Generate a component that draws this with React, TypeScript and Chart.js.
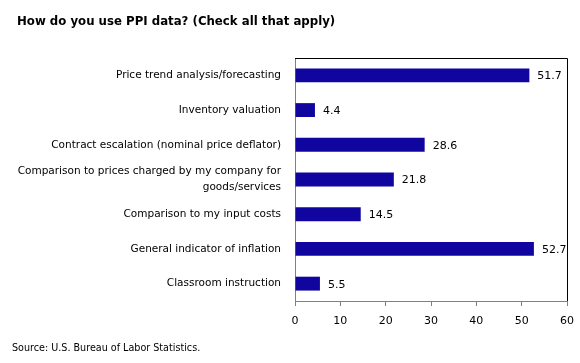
import React, { useEffect, useRef } from "react";
import { Chart, registerables } from "chart.js";

Chart.register(...registerables);

const categories: (string | string[])[] = [
  "Price trend analysis/forecasting",
  "Inventory valuation",
  "Contract escalation (nominal price deflator)",
  ["Comparison to prices charged by my company for", "goods/services"],
  "Comparison to my input costs",
  "General indicator of inflation",
  "Classroom instruction",
];
const values: number[] = [51.7, 4.4, 28.6, 21.8, 14.5, 52.7, 5.5];
const xTicks = { min: 0, max: 60, step: 10 };
const titleText = "How do you use PPI data? (Check all that apply)";
const sourceText = "Source: U.S. Bureau of Labor Statistics.";

const FONT = "'DejaVu Sans', sans-serif";
const BAR_COLOR = "#10069F";

const PLOT_LEFT = 295;
const PLOT_TOP = 58;
const PLOT_RIGHT = 567;
const PLOT_BOTTOM = 301;
const W = 580;
const H = 363;

const decorPlugin = {
  id: "decor",
  afterDraw(chart: any) {
    const ctx = chart.ctx;
    const area = chart.chartArea;
    ctx.save();
    ctx.strokeStyle = "#000000";
    ctx.lineWidth = 1;
    ctx.beginPath();
    ctx.moveTo(area.left, area.top + 0.5);
    ctx.lineTo(area.right + 0.5, area.top + 0.5);
    ctx.lineTo(area.right + 0.5, area.bottom);
    ctx.stroke();
    const meta = chart.getDatasetMeta(0);
    ctx.fillStyle = "#000000";
    ctx.font = `11px ${FONT}`;
    ctx.textAlign = "left";
    ctx.textBaseline = "middle";
    meta.data.forEach((bar: any, i: number) => {
      ctx.fillText(values[i].toFixed(1), bar.x + 8, bar.y + 1);
    });
    ctx.font = `bold 11.75px ${FONT}`;
    ctx.fillText(titleText, 17, 22);
    ctx.font = `9.6px ${FONT}`;
    ctx.fillText(sourceText, 12, 348);
    ctx.restore();
  },
};

export default function App() {
  const ref = useRef<HTMLCanvasElement>(null);
  useEffect(() => {
    document.body.style.margin = "0";
    const chart = new Chart(ref.current!, {
      type: "bar",
      data: {
        labels: categories,
        datasets: [
          {
            data: values,
            backgroundColor: BAR_COLOR,
            barPercentage: 0.4,
            categoryPercentage: 1,
          },
        ],
      },
      options: {
        indexAxis: "y",
        animation: false,
        responsive: false,
        layout: {
          padding: { left: 0, top: PLOT_TOP, right: W - PLOT_RIGHT, bottom: 0 },
        },
        plugins: {
          legend: { display: false },
          tooltip: { enabled: false },
          title: { display: false },
        },
        scales: {
          x: {
            min: xTicks.min,
            max: xTicks.max,
            ticks: {
              stepSize: xTicks.step,
              color: "#000000",
              font: { family: FONT, size: 11 },
              padding: 9,
            },
            grid: {
              drawOnChartArea: false,
              drawTicks: true,
              tickLength: 5,
              color: "#808080",
            },
            border: { color: "#808080", width: 1 },
            afterFit(scale: any) {
              scale.height = H - PLOT_BOTTOM;
              scale.paddingRight = 0;
              scale.paddingLeft = 0;
            },
          },
          y: {
            ticks: {
              autoSkip: false,
              color: "#000000",
              font: { family: FONT, size: 10.5, lineHeight: 1.55 },
              padding: 14,
            },
            grid: { display: false, drawTicks: false },
            border: { color: "#808080", width: 1 },
            afterFit(scale: any) {
              scale.width = PLOT_LEFT;
              scale.paddingTop = 0;
              scale.paddingBottom = 0;
            },
          },
        },
      },
      plugins: [decorPlugin],
    });
    return () => chart.destroy();
  }, []);
  return (
    <div style={{ width: W, height: H, background: "#ffffff" }}>
      <canvas ref={ref} width={W} height={H} />
    </div>
  );
}
